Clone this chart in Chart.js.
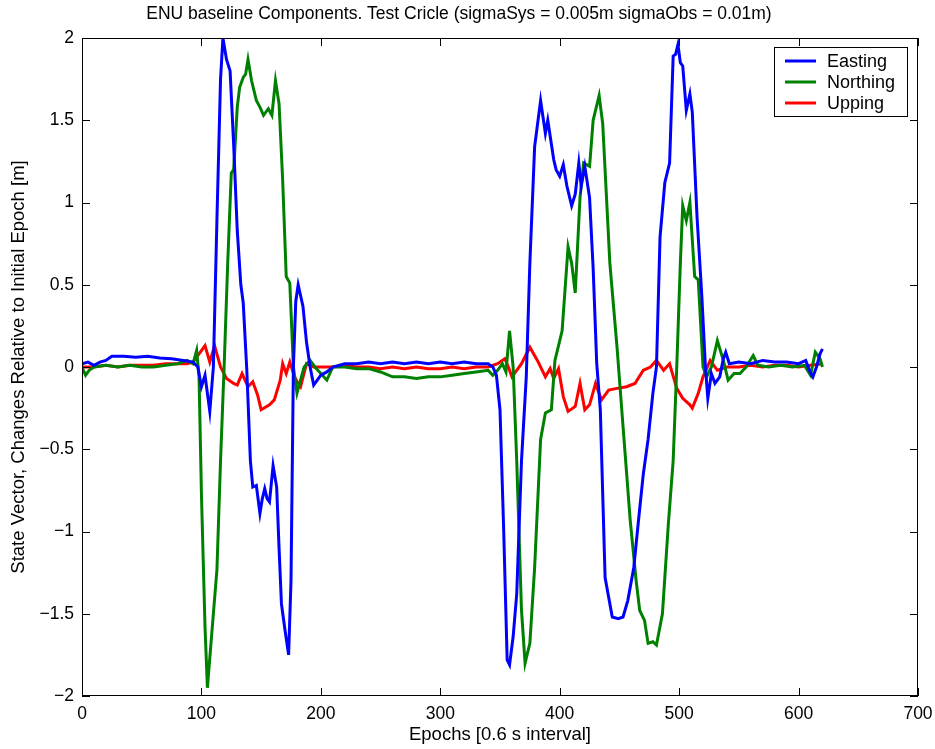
<!DOCTYPE html>
<html>
<head>
<meta charset="utf-8">
<script src="https://cdn.jsdelivr.net/npm/chart.js@4.4.1/dist/chart.umd.min.js"></script>
<style>
  html, body { margin: 0; padding: 0; background: #fff; }
  #wrap { width: 935px; height: 749px; }
</style>
</head>
<body>
<div id="wrap"><canvas id="enu-chart" width="935" height="749"></canvas></div>
<script>
const seriesLabels = ["Easting", "Northing", "Upping"];
const seriesColors = ["#0000FF", "#008000", "#FF0000"];

const eastingEpochs = [0, 5, 10, 15, 20, 25, 35, 45, 55, 65, 75, 85, 93, 97, 100, 103, 107, 110, 113, 116, 118, 121, 124, 127, 130, 133, 135, 138, 141, 143, 146, 149, 151, 153, 155, 157, 160, 163, 165, 167, 170, 173, 175, 177, 179, 181, 185, 188, 191, 194, 197, 200, 205, 210, 220, 230, 240, 250, 260, 270, 280, 290, 300, 310, 320, 330, 340, 344, 347, 350, 353, 356, 358, 361, 364, 368, 372, 375, 379, 384, 388, 390, 395, 397, 400, 403, 406, 410, 413, 416, 418, 421, 425, 428, 431, 434, 438, 444, 449, 453, 457, 462, 466, 470, 474, 478, 481, 484, 488, 492, 495, 497, 499, 501, 503, 506, 509, 511, 515, 519, 522, 524, 527, 530, 534, 537, 539, 542, 550, 560, 570, 580, 590, 600, 606, 609, 612, 615, 618, 620];
const eastingValues = [0.02, 0.03, 0.01, 0.03, 0.04, 0.065, 0.065, 0.06, 0.065, 0.055, 0.05, 0.04, 0.03, 0.0, -0.12, -0.05, -0.27, 0.0, 0.9, 1.75, 2.0, 1.87, 1.8, 1.35, 0.83, 0.5, 0.39, -0.02, -0.57, -0.73, -0.72, -0.89, -0.8, -0.74, -0.8, -0.82, -0.6, -0.73, -1.1, -1.44, -1.6, -1.75, -1.3, 0.0, 0.4, 0.5, 0.37, 0.15, 0.0, -0.11, -0.08, -0.05, -0.03, 0.0, 0.02, 0.02, 0.03, 0.02, 0.03, 0.02, 0.03, 0.02, 0.03, 0.02, 0.03, 0.02, 0.02, 0.0, -0.05, -0.26, -0.97, -1.78, -1.81, -1.64, -1.38, -0.57, -0.06, 0.63, 1.34, 1.62, 1.42, 1.5, 1.26, 1.2, 1.16, 1.23, 1.1, 0.98, 1.05, 1.24, 1.1, 1.22, 1.03, 0.6, 0.02, -0.26, -1.28, -1.52, -1.53, -1.52, -1.42, -1.22, -0.93, -0.65, -0.44, -0.16, 0.0, 0.79, 1.12, 1.24, 1.89, 1.9, 1.96, 1.85, 1.83, 1.56, 1.66, 1.55, 0.91, 0.43, 0.0, -0.19, -0.04, -0.1, -0.06, 0.05, 0.09, 0.02, 0.03, 0.02, 0.04, 0.03, 0.03, 0.02, 0.04, -0.02, -0.06, 0.0, 0.08, 0.11];

const northingEpochs = [0, 3, 6, 10, 20, 30, 40, 50, 60, 70, 80, 88, 93, 96, 98, 100, 103, 105, 108, 110, 113, 116, 119, 122, 125, 127, 130, 132, 135, 137, 139, 142, 144, 146, 149, 152, 156, 159, 162, 165, 168, 171, 174, 177, 180, 183, 186, 191, 195, 200, 205, 210, 220, 230, 240, 250, 260, 270, 280, 290, 300, 310, 320, 330, 340, 344, 348, 352, 355, 358, 361, 364, 368, 371, 375, 379, 384, 388, 393, 396, 398, 402, 407, 410, 413, 417, 420, 425, 428, 433, 436, 442, 448, 453, 459, 464, 467, 471, 474, 478, 481, 486, 491, 495, 498, 501, 503, 506, 509, 513, 516, 520, 523, 527, 532, 537, 541, 546, 551, 556, 562, 566, 575, 585, 595, 605, 610, 614, 618, 620];
const northingValues = [0.0, -0.05, -0.02, 0.0, 0.01, 0.0, 0.01, 0.0, 0.0, 0.01, 0.02, 0.04, 0.02, 0.1, -0.06, -0.77, -1.58, -1.95, -1.68, -1.5, -1.23, -0.57, 0.0, 0.63, 1.18, 1.2, 1.58, 1.7, 1.76, 1.78, 1.87, 1.74, 1.68, 1.62, 1.58, 1.53, 1.57, 1.53, 1.74, 1.6, 1.14, 0.55, 0.51, 0.0, -0.16, -0.08, 0.0, 0.04, 0.0, -0.04, -0.08, 0.0, 0.0, -0.01, -0.01, -0.03, -0.06, -0.06, -0.07, -0.06, -0.06, -0.05, -0.04, -0.03, -0.02, -0.05, -0.02, 0.02, -0.03, 0.22, 0.0, -0.57, -1.48, -1.8, -1.68, -1.22, -0.44, -0.28, -0.26, 0.04, 0.1, 0.22, 0.73, 0.63, 0.45, 1.03, 1.24, 1.22, 1.5, 1.65, 1.48, 0.63, 0.12, -0.36, -0.93, -1.3, -1.48, -1.54, -1.68, -1.67, -1.69, -1.5, -0.95, -0.57, 0.0, 0.63, 0.98, 0.89, 1.0, 0.55, 0.53, 0.0, -0.06, 0.0, 0.16, 0.04, -0.08, -0.04, -0.04, 0.0, 0.07, 0.01, 0.0, 0.01, 0.0, 0.01, -0.05, 0.09, 0.05, 0.0];

const uppingEpochs = [0, 10, 20, 30, 40, 50, 60, 70, 80, 88, 93, 98, 103, 107, 111, 116, 121, 127, 130, 134, 139, 143, 147, 150, 157, 161, 166, 168, 171, 174, 178, 181, 183, 188, 194, 200, 210, 220, 230, 240, 250, 260, 270, 280, 290, 300, 310, 320, 330, 340, 348, 354, 357, 360, 364, 368, 375, 382, 388, 392, 395, 399, 403, 407, 413, 417, 421, 425, 430, 435, 441, 448, 456, 463, 470, 476, 481, 487, 492, 498, 503, 509, 511, 516, 520, 526, 532, 540, 550, 560, 570, 580, 590, 600, 610, 620];
const uppingValues = [0.0, 0.0, 0.01, 0.0, 0.01, 0.01, 0.01, 0.02, 0.02, 0.02, 0.03, 0.08, 0.13, 0.03, 0.13, 0.0, -0.07, -0.1, -0.11, -0.04, -0.12, -0.09, -0.17, -0.26, -0.23, -0.2, -0.08, 0.02, -0.04, 0.03, -0.06, -0.1, -0.12, 0.02, 0.0, 0.0, 0.0, 0.01, 0.0, 0.0, -0.01, 0.0, -0.01, 0.0, -0.01, -0.01, 0.0, -0.01, 0.0, 0.0, 0.02, 0.05, 0.0, -0.06, -0.02, 0.02, 0.12, 0.03, -0.06, -0.01, -0.07, -0.01, -0.18, -0.27, -0.24, -0.1, -0.26, -0.23, -0.1, -0.2, -0.14, -0.13, -0.12, -0.1, -0.02, 0.0, 0.04, -0.02, 0.02, -0.13, -0.19, -0.23, -0.25, -0.16, -0.06, 0.04, -0.02, 0.0, 0.0, 0.01, 0.0, 0.01, 0.01, 0.0, 0.01, 0.02];

const xTicks = [0, 100, 200, 300, 400, 500, 600, 700];
const yTicks = [-2, -1.5, -1, -0.5, 0, 0.5, 1, 1.5, 2];

const FONT = "'Liberation Sans', Arial, Helvetica, sans-serif";

function toPoints(xs, ys) {
  return xs.map((x, i) => ({ x: x, y: ys[i] }));
}

const allEpochs = [eastingEpochs, northingEpochs, uppingEpochs];
const allValues = [eastingValues, northingValues, uppingValues];

const datasets = seriesLabels.map((label, i) => ({
  label: label,
  data: toPoints(allEpochs[i], allValues[i]),
  borderColor: seriesColors[i],
  backgroundColor: seriesColors[i],
  borderWidth: 3,
  pointRadius: 0,
  tension: 0,
  fill: false
}));

// matlab style box + inward ticks
const boxPlugin = {
  id: "box",
  afterDatasetsDraw(chart) {
    const ctx = chart.ctx;
    const a = chart.chartArea;
    const xs = chart.scales.x, ys = chart.scales.y;
    ctx.save();
    ctx.strokeStyle = "#000";
    ctx.lineWidth = 1;
    ctx.beginPath();
    xTicks.forEach(v => {
      const p = Math.round(xs.getPixelForValue(v)) + 0.5;
      ctx.moveTo(p, a.bottom); ctx.lineTo(p, a.bottom - 8);
      ctx.moveTo(p, a.top); ctx.lineTo(p, a.top + 8);
    });
    yTicks.forEach(v => {
      const p = Math.round(ys.getPixelForValue(v)) + 0.5;
      ctx.moveTo(a.left, p); ctx.lineTo(a.left + 8, p);
      ctx.moveTo(a.right, p); ctx.lineTo(a.right - 8, p);
    });
    ctx.stroke();
    ctx.strokeRect(a.left + 0.5, a.top + 0.5, a.right - a.left - 1, a.bottom - a.top - 1);
    ctx.restore();
  },
  afterDraw(chart) {
    // legend box, top right inside the axes
    const ctx = chart.ctx;
    const a = chart.chartArea;
    const w = 133, h = 69;
    const left = a.right - 11 - w, top = a.top + 9;
    ctx.save();
    ctx.fillStyle = "#fff";
    ctx.fillRect(left, top, w, h);
    ctx.strokeStyle = "#000";
    ctx.lineWidth = 1;
    ctx.strokeRect(left + 0.5, top + 0.5, w, h);
    ctx.font = "18px " + FONT;
    ctx.textBaseline = "middle";
    ctx.fillStyle = "#000";
    seriesLabels.forEach((lab, i) => {
      const y = top + 14 + i * 21;
      ctx.strokeStyle = seriesColors[i];
      ctx.lineWidth = 3;
      ctx.beginPath();
      ctx.moveTo(left + 11, y);
      ctx.lineTo(left + 42, y);
      ctx.stroke();
      ctx.fillText(lab, left + 53, y + 1);
    });
    ctx.restore();
  }
};

const ctx = document.getElementById("enu-chart").getContext("2d");

new Chart(ctx, {
  type: "line",
  data: { datasets: datasets },
  options: {
    responsive: false,
    animation: false,
    layout: { padding: { left: 0, right: 17, top: 0, bottom: 0 } },
    plugins: {
      legend: { display: false },
      tooltip: { enabled: false },
      title: {
        display: true,
        text: "ENU baseline Components. Test Cricle (sigmaSys = 0.005m sigmaObs = 0.01m)",
        color: "#000",
        font: { family: FONT, size: 17.5, weight: "normal" },
        padding: { top: 4, bottom: 13 }
      }
    },
    scales: {
      x: {
        type: "linear",
        min: 0,
        max: 700,
        afterFit: s => { s.height = 53; s.paddingLeft = 0; s.paddingRight = 0; },
        afterBuildTicks: s => { s.ticks = xTicks.map(v => ({ value: v })); },
        grid: { display: true, drawOnChartArea: false, drawTicks: false, tickLength: 0 },
        border: { display: false },
        ticks: {
          color: "#000",
          padding: 8,
          maxRotation: 0,
          font: { family: FONT, size: 17.5 },
          callback: v => String(v)
        },
        title: {
          display: true,
          text: "Epochs [0.6 s interval]",
          color: "#000",
          font: { family: FONT, size: 18.5 },
          padding: { top: 0, bottom: 3 }
        }
      },
      y: {
        type: "linear",
        min: -2,
        max: 2,
        afterFit: s => { s.width = 82; s.paddingTop = 0; s.paddingBottom = 0; },
        afterBuildTicks: s => { s.ticks = yTicks.map(v => ({ value: v })); },
        grid: { display: true, drawOnChartArea: false, drawTicks: false, tickLength: 0 },
        border: { display: false },
        ticks: {
          color: "#000",
          padding: 8,
          font: { family: FONT, size: 17.5 },
          callback: v => (v < 0 ? "\u2212" + String(-v) : String(v))
        },
        title: {
          display: true,
          text: "State Vector, Changes Relative to Initial Epoch [m]",
          color: "#000",
          font: { family: FONT, size: 18.5 },
          padding: { top: 8, bottom: 0 }
        }
      }
    }
  },
  plugins: [boxPlugin]
});
</script>
</body>
</html>
